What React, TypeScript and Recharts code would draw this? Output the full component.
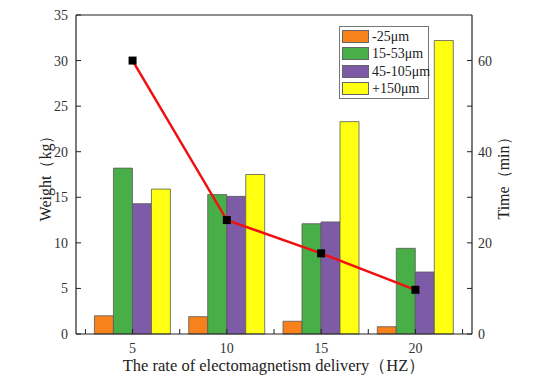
import React from 'react';
import { ComposedChart, Bar, Line, XAxis, YAxis, ReferenceLine } from 'recharts';

const hz = [5, 10, 15, 20];
const minus25 = [2.0, 1.9, 1.4, 0.8];
const s15to53 = [18.2, 15.3, 12.1, 9.4];
const s45to105 = [14.3, 15.1, 12.3, 6.8];
const plus150 = [15.9, 17.5, 23.3, 32.2];
const timeMin = [60, 25, 17.7, 9.7];
const leftTicks = [0, 5, 10, 15, 20, 25, 30, 35];
const rightTicks = [0, 10, 20, 30, 40, 50, 60];
const xTicks = [2.5, 5, 7.5, 10, 12.5, 15, 17.5, 20, 22.5];

const series = [
  { key: 'a', name: '-25μm', color: '#F7821B', values: minus25 },
  { key: 'b', name: '15-53μm', color: '#48AE48', values: s15to53 },
  { key: 'c', name: '45-105μm', color: '#7D5BA6', values: s45to105 },
  { key: 'd', name: '+150μm', color: '#FFFF10', values: plus150 },
];

const data = hz.map((h, i) => ({
  hz: h,
  a: minus25[i],
  b: s15to53[i],
  c: s45to105[i],
  d: plus150[i],
  t: timeMin[i],
}));

const FONT = '"Liberation Serif", "Times New Roman", serif';

const LeftTick = (props: any) => {
  const { x, y, payload } = props;
  return (
    <g>
      <line x1={x + 6} x2={x + 11} y1={y} y2={y} stroke="#222" strokeWidth={1} />
      <text x={x - 2} y={y} dy={5} textAnchor="end" fontFamily={FONT} fontSize={14} fill="#333">
        {payload.value}
      </text>
    </g>
  );
};

const RightTick = (props: any) => {
  const { x, y, payload } = props;
  const major = payload.value % 20 === 0;
  return (
    <g>
      <line x1={x - 6} x2={x - 11} y1={y} y2={y} stroke="#222" strokeWidth={1} />
      {major && (
        <text x={x} y={y} dy={5} textAnchor="start" fontFamily={FONT} fontSize={14} fill="#333">
          {payload.value}
        </text>
      )}
    </g>
  );
};

const BottomTick = (props: any) => {
  const { x, y, payload } = props;
  const major = hz.includes(payload.value);
  return (
    <g>
      <line x1={x} x2={x} y1={y} y2={y - 5} stroke="#222" strokeWidth={1} />
      {major && (
        <text x={x} y={y} dy={19} textAnchor="middle" fontFamily={FONT} fontSize={14} fill="#333">
          {payload.value}
        </text>
      )}
    </g>
  );
};

const SquareDot = (props: any) => {
  const { cx, cy } = props;
  if (cx == null || cy == null) return null;
  return <rect x={cx - 4} y={cy - 4} width={8} height={8} fill="#000" />;
};

const LegendBox = () => (
  <div
    style={{
      position: 'absolute',
      left: 339,
      top: 26,
      border: '1px solid #777',
      background: '#fff',
      width: 86,
      padding: '1px 0 1px 2px',
      fontFamily: FONT,
      fontSize: 14,
      color: '#222',
      zIndex: 5,
    }}
  >
    {series.map((s) => (
      <div key={s.key} style={{ display: 'flex', alignItems: 'center', height: 17.3, whiteSpace: 'nowrap' }}>
        <div
          style={{
            width: 27,
            height: 13,
            background: s.color,
            border: '1px solid #666',
            boxSizing: 'border-box',
            marginRight: 3,
            flex: '0 0 auto',
          }}
        />
        <span style={{ lineHeight: '17px', fontFamily: FONT, whiteSpace: 'nowrap' }}>{s.name}</span>
      </div>
    ))}
  </div>
);

export default function App() {
  return (
    <div style={{ position: 'absolute', left: 0, top: 0, width: 538, height: 376, background: '#fff' }}>
      <ComposedChart
        width={538}
        height={376}
        data={data}
        margin={{ top: 15, right: 0, bottom: 0, left: 0 }}
        barGap={0}
        barCategoryGap={10}
      >
        <XAxis
          xAxisId="main"
          dataKey="hz"
          type="number"
          domain={[2, 23]}
          ticks={xTicks}
          interval={0}
          allowDataOverflow
          height={42}
          tickSize={0}
          tickMargin={0}
          tick={<BottomTick />}
          axisLine={{ stroke: '#222', strokeWidth: 1.2 }}
          tickLine={false}
          label={{
            value: 'The rate of electomagnetism delivery（HZ）',
            position: 'insideBottom',
            offset: 5,
            style: { fontFamily: FONT, fontSize: 16.5, fill: '#222' },
          }}
        />
        <YAxis
          yAxisId="left"
          domain={[0, 35]}
          ticks={leftTicks}
          width={76}
          tickSize={0}
          tickMargin={6}
          tick={<LeftTick />}
          tickLine={false}
          axisLine={{ stroke: '#222', strokeWidth: 1.2 }}
          label={{
            value: 'Weight（kg）',
            angle: -90,
            position: 'center',
            dx: 7,
            style: { fontFamily: FONT, fontSize: 16, fill: '#222', textAnchor: 'middle' },
          }}
        />
        <YAxis
          yAxisId="right"
          orientation="right"
          domain={[0, 70]}
          ticks={rightTicks}
          width={66}
          tickSize={0}
          tickMargin={6}
          tick={<RightTick />}
          tickLine={false}
          axisLine={{ stroke: '#222', strokeWidth: 1.2 }}
          label={{
            value: 'Time（min）',
            angle: -90,
            position: 'center',
            dx: -2,
            style: { fontFamily: FONT, fontSize: 16, fill: '#222', textAnchor: 'middle' },
          }}
        />
        <ReferenceLine xAxisId="main" yAxisId="left" y={35} stroke="#222" strokeWidth={1.2} ifOverflow="visible" />
        {series.map((s) => (
          <Bar
            key={s.key}
            xAxisId="main"
            yAxisId="left"
            dataKey={s.key}
            name={s.name}
            fill={s.color}
            stroke="#5a5a5a"
            strokeWidth={0.8}
            barSize={19}
            isAnimationActive={false}
          />
        ))}
        <Line
          xAxisId="main"
          yAxisId="right"
          dataKey="t"
          stroke="#F01010"
          strokeWidth={2.5}
          dot={<SquareDot />}
          activeDot={false}
          isAnimationActive={false}
        />
      </ComposedChart>
      <LegendBox />
    </div>
  );
}
